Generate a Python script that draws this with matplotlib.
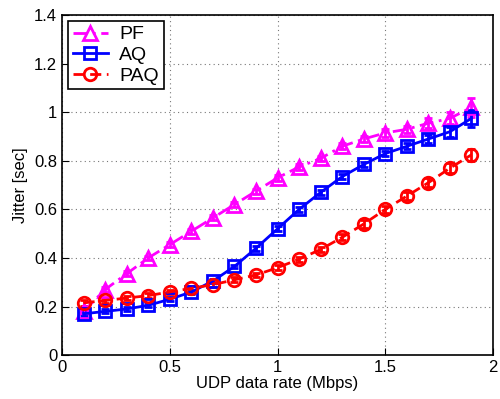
import matplotlib
matplotlib.use("Agg")
import matplotlib.pyplot as plt

plt.rcParams["font.family"] = ["Liberation Sans", "DejaVu Sans"]

rate = [0.1, 0.2, 0.3, 0.4, 0.5, 0.6, 0.7, 0.8, 0.9, 1.0,
        1.1, 1.2, 1.3, 1.4, 1.5, 1.6, 1.7, 1.8, 1.9]

pf = [0.18, 0.27, 0.335, 0.40, 0.455, 0.51, 0.565, 0.62, 0.675, 0.73,
      0.775, 0.81, 0.86, 0.89, 0.915, 0.93, 0.955, 0.975, 1.02]
pf_err = [0.01, 0.01, 0.01, 0.01, 0.01, 0.01, 0.01, 0.01, 0.01, 0.012,
          0.012, 0.012, 0.012, 0.012, 0.015, 0.015, 0.02, 0.025, 0.04]

aq = [0.17, 0.18, 0.19, 0.205, 0.23, 0.26, 0.305, 0.365, 0.44, 0.52,
      0.60, 0.67, 0.735, 0.785, 0.83, 0.86, 0.89, 0.92, 0.975]
aq_err = [0.01, 0.008, 0.008, 0.008, 0.008, 0.008, 0.008, 0.008, 0.01, 0.01,
          0.01, 0.01, 0.01, 0.01, 0.01, 0.012, 0.015, 0.02, 0.035]

paq = [0.215, 0.225, 0.235, 0.245, 0.26, 0.275, 0.29, 0.31, 0.33, 0.36,
       0.395, 0.435, 0.485, 0.54, 0.60, 0.655, 0.71, 0.77, 0.825]
paq_err = [0.012, 0.01, 0.01, 0.01, 0.01, 0.01, 0.01, 0.01, 0.01, 0.01,
           0.01, 0.012, 0.012, 0.015, 0.015, 0.015, 0.018, 0.02, 0.025]

fig = plt.figure(figsize=(5, 3.99), dpi=100)
ax = fig.add_axes([0.124, 0.110, 0.862, 0.852])

c1 = ax.errorbar(rate, pf, yerr=pf_err, color="#ff00ff", ls=(0, (5, 2, 1, 2)),
                 lw=2, marker="^", ms=10, mfc="none", mew=2, capsize=3,
                 label="PF")
c2 = ax.errorbar(rate, aq, yerr=aq_err, color="#0000ff", ls="-", lw=2,
                 marker="s", ms=8, mfc="none", mew=2, capsize=3, label="AQ")
c3 = ax.errorbar(rate, paq, yerr=paq_err, color="#ff0000", ls=(0, (4, 2)),
                 lw=2, marker="o", ms=9, mfc="none", mew=2, capsize=3,
                 label="PAQ")

ax.set_xlim(0, 2)
ax.set_ylim(0, 1.4)
ax.set_xticks([0, 0.5, 1, 1.5, 2])
ax.set_xticklabels(["0", "0.5", "1", "1.5", "2"])
ax.set_yticks([0, 0.2, 0.4, 0.6, 0.8, 1, 1.2, 1.4])
ax.set_yticklabels(["0", "0.2", "0.4", "0.6", "0.8", "1", "1.2", "1.4"])
ax.tick_params(direction="in", labelsize=12, length=5)
ax.grid(True, ls=(0, (1, 3)), color="#777777", lw=0.8)
for sp in ax.spines.values():
    sp.set_linewidth(1.2)

ax.set_xlabel("UDP data rate (Mbps)", fontsize=12, labelpad=1)
ax.set_ylabel("Jitter [sec]", fontsize=12)

leg = ax.legend([c1[0], c2[0], c3[0]], ["PF", "AQ", "PAQ"], loc="upper left",
                fontsize=14, fancybox=False, edgecolor="black", framealpha=1,
                borderaxespad=0.3, handlelength=1.8, handletextpad=0.6,
                labelspacing=0.15, borderpad=0.25)
leg.get_frame().set_linewidth(1.2)

fig.savefig("out.png", dpi=100)
